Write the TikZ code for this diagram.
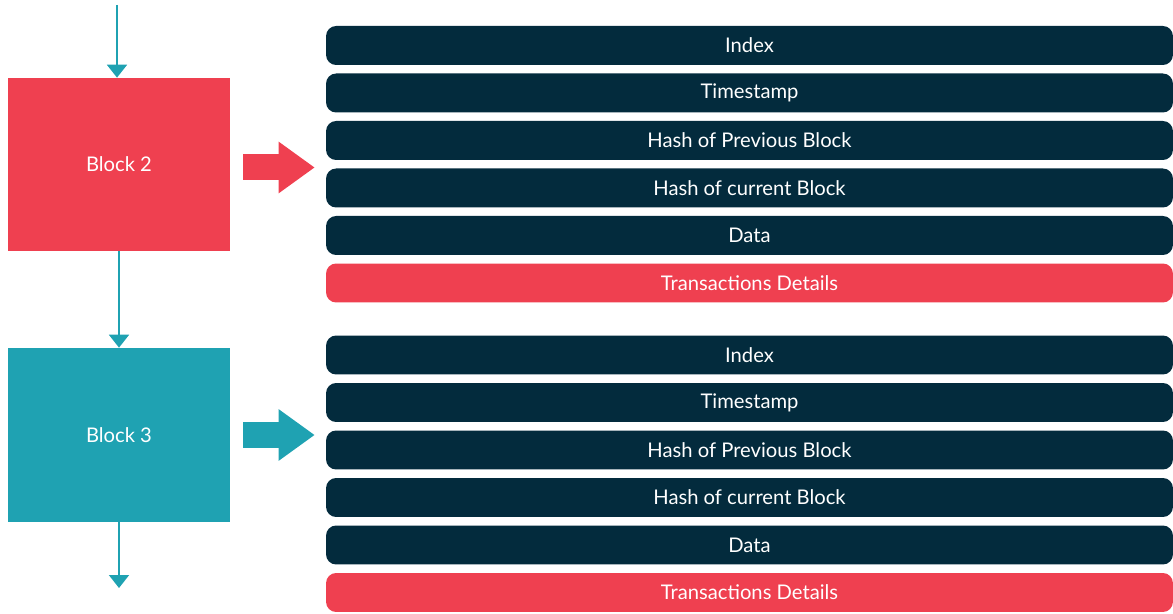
\documentclass[tikz,border=0pt]{standalone}
\usepackage{fontspec}
\setmainfont{Lato}
\usetikzlibrary{arrows.meta}

\definecolor{blockred}{HTML}{EF4050}
\definecolor{blockteal}{HTML}{1FA2B2}
\definecolor{navy}{HTML}{032B3D}

\tikzset{
  block/.style={fill=#1, inner sep=0pt, minimum width=4.44cm, text=white,
    font=\fontsize{11.5}{13}\selectfont},
  field/.style={fill=navy, rounded corners=0.2cm, inner sep=0pt,
    minimum width=16.94cm, minimum height=0.78cm, text=white,
    font=\fontsize{11.5}{13}\selectfont},
  link/.style={draw=blockteal, line width=1.1pt,
    -{Triangle[width=0.4cm,length=0.26cm]}},
  bigarrow/.style={draw=#1, line width=0.52cm,
    -{Triangle[width=0.98cm,length=0.72cm]}},
}

\begin{document}
\begin{tikzpicture}[x=0.02cm, y=-0.02cm]
    \useasboundingbox (0,0) rectangle (1173,614);

    % Draw blocks
    \node[block=blockred, minimum height=3.46cm] (b2) at (119, 164.5) {Block 2};
    \node[block=blockteal, minimum height=3.48cm] (b3) at (119, 435) {Block 3};

    % Draw fields of block 2
    \foreach \lbl [count=\i from 0] in {Index, Timestamp, Hash of Previous Block, Hash of current Block, Data}
        \node[field] (a\i) at (749.5, {45.5+47.5*\i}) {\lbl};
    \node[field, fill=blockred] (a5) at (749.5, 283) {Transactions Details};

    % Draw fields of block 3
    \foreach \lbl [count=\i from 0] in {Index, Timestamp, Hash of Previous Block, Hash of current Block, Data}
        \node[field] (c\i) at (749.5, {355+47.5*\i}) {\lbl};
    \node[field, fill=blockred] (c5) at (749.5, 592.5) {Transactions Details};

    % Chain links
    \coordinate (top) at (117, 5);
    \coordinate (bottom) at (119, 588);
    \draw[link] (top) -- (top |- b2.north);
    \draw[link] (b2.south) -- (b3.north);
    \draw[link] (b3.south) -- (bottom);

    % Big arrows from blocks to their fields
    \draw[bigarrow=blockred, shorten <=0.26cm, shorten >=0.22cm]
        ([yshift=-0.06cm]b2.east) -- ([yshift=-0.06cm]b2.east -| a2.west);
    \draw[bigarrow=blockteal, shorten <=0.26cm, shorten >=0.22cm]
        (b3.east) -- (b3.east -| c2.west);
\end{tikzpicture}
\end{document}
